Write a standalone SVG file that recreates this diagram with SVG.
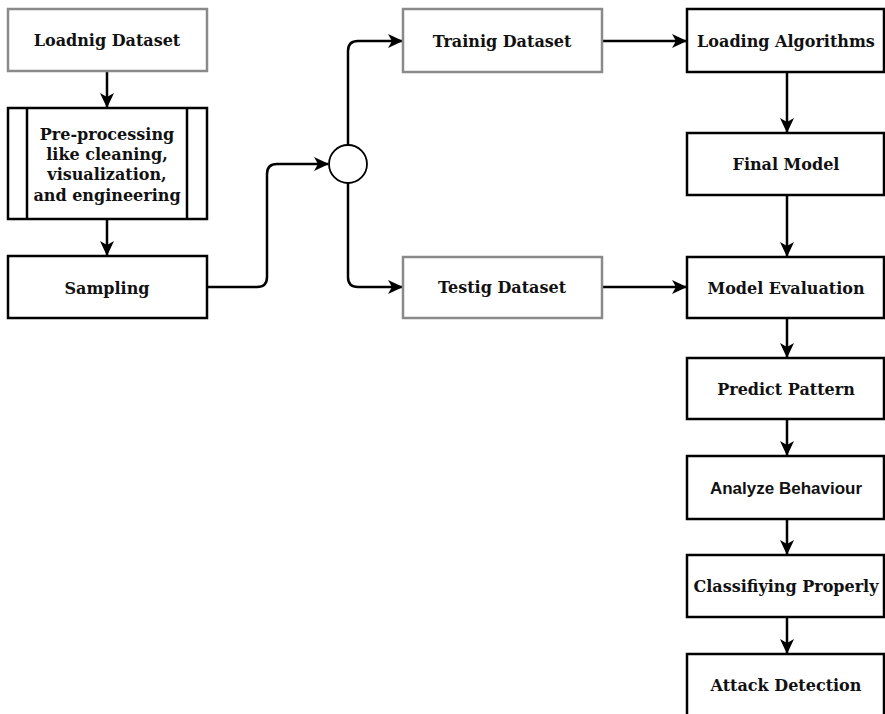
<svg xmlns="http://www.w3.org/2000/svg" width="885" height="714" viewBox="0 0 885 714">
  <style>
    .box { fill: #ffffff; stroke: #000000; stroke-width: 2.5; }
    .soft { stroke: #8a8a8a; }
    .lbl { font-family: "DejaVu Serif", "Liberation Serif", serif; font-weight: bold; font-size: 16px; fill: #111111; text-anchor: middle; }
    .sans { font-family: "Liberation Sans", Arial, sans-serif; font-size: 17px; }
    .wire { fill: none; stroke: #000000; stroke-width: 2.5; marker-end: url(#head); }
  </style>
  <defs>
    <marker id="head" markerUnits="userSpaceOnUse" markerWidth="15" markerHeight="14" refX="14" refY="7" orient="auto">
      <path d="M0,0 L15,7 L0,14 L4,7 z" fill="#000000"/>
    </marker>
  </defs>

  <g id="connectors">
    <path class="wire" d="M107,71 V107"/>
    <path class="wire" d="M107,219 V255"/>
    <path class="wire" d="M207,287 H257 Q267,287 267,277 V174 Q267,164 277,164 H328"/>
    <path class="wire" d="M348,145 V51 Q348,41 358,41 H402"/>
    <path class="wire" d="M348,183 V277 Q348,287 358,287 H402"/>
    <path class="wire" d="M602,41 H686"/>
    <path class="wire" d="M602,287 H686"/>
    <path class="wire" d="M787,72 V132"/>
    <path class="wire" d="M787,195 V256"/>
    <path class="wire" d="M787,318 V357"/>
    <path class="wire" d="M787,419 V455"/>
    <path class="wire" d="M787,519 V554"/>
    <path class="wire" d="M787,617 V653"/>
  </g>

  <g id="load-dataset">
    <rect class="box soft" x="8" y="9" width="199" height="62"/>
    <text class="lbl" x="107" y="46">Loadnig Dataset</text>
  </g>

  <g id="preprocessing">
    <rect class="box" x="8" y="108" width="199" height="111"/>
    <line x1="27" y1="108" x2="27" y2="219" stroke="#000" stroke-width="2.5"/>
    <line x1="187" y1="108" x2="187" y2="219" stroke="#000" stroke-width="2.5"/>
    <text class="lbl" x="107" y="140">Pre-processing</text>
    <text class="lbl" x="107" y="160">like cleaning,</text>
    <text class="lbl" x="107" y="180">visualization,</text>
    <text class="lbl" x="107" y="201">and engineering</text>
  </g>

  <g id="sampling">
    <rect class="box" x="8" y="256" width="199" height="62"/>
    <text class="lbl" x="107" y="294">Sampling</text>
  </g>

  <g id="split">
    <circle cx="348" cy="164" r="19" fill="#ffffff" stroke="#000000" stroke-width="1.8"/>
  </g>

  <g id="training-dataset">
    <rect class="box soft" x="403" y="9" width="199" height="63"/>
    <text class="lbl" x="502" y="47">Trainig Dataset</text>
  </g>

  <g id="testing-dataset">
    <rect class="box soft" x="403" y="257" width="199" height="61"/>
    <text class="lbl" x="502" y="293">Testig Dataset</text>
  </g>

  <g id="loading-algorithms">
    <rect class="box" x="687" y="9" width="197" height="63"/>
    <text class="lbl" x="786" y="47">Loading Algorithms</text>
  </g>

  <g id="final-model">
    <rect class="box" x="687" y="133" width="197" height="62"/>
    <text class="lbl" x="786" y="170">Final Model</text>
  </g>

  <g id="model-evaluation">
    <rect class="box" x="687" y="257" width="197" height="61"/>
    <text class="lbl" x="786" y="294">Model Evaluation</text>
  </g>

  <g id="predict-pattern">
    <rect class="box" x="687" y="358" width="197" height="61"/>
    <text class="lbl" x="786" y="395">Predict Pattern</text>
  </g>

  <g id="analyze-behaviour">
    <rect class="box" x="687" y="456" width="197" height="63"/>
    <text class="lbl sans" x="786" y="494">Analyze Behaviour</text>
  </g>

  <g id="classifying-properly">
    <rect class="box" x="687" y="555" width="197" height="62"/>
    <text class="lbl" x="786" y="592">Classifiying Properly</text>
  </g>

  <g id="attack-detection">
    <rect class="box" x="687" y="654" width="197" height="70"/>
    <text class="lbl" x="786" y="691">Attack Detection</text>
  </g>
</svg>
